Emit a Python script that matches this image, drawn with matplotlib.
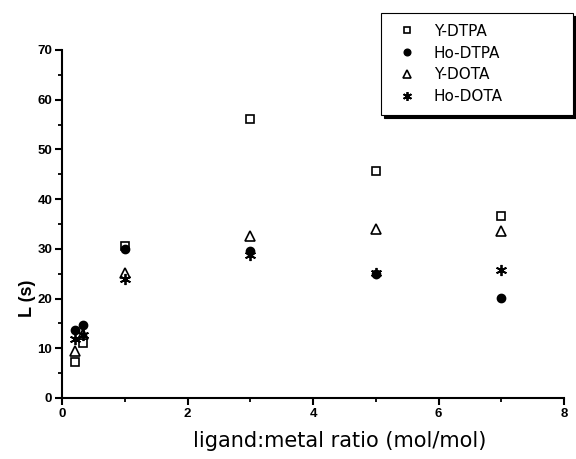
import matplotlib.pyplot as plt
from matplotlib.ticker import MultipleLocator

ratio = [0.2, 0.33, 1, 3, 5, 7]
y_dtpa = [7.3, 11.0, 30.6, 56.1, 45.7, 36.7]
ho_dtpa = [13.7, 14.7, 29.9, 29.5, 25.0, 20.2]
y_dota = [9.5, 12.8, 25.1, 32.6, 33.9, 33.5]
ho_dota = [11.8, 12.6, 23.9, 28.8, 25.1, 25.8]

fig = plt.figure(figsize=(5.76, 4.59), dpi=100)
ax = fig.add_axes([62 / 576, 1 - 398 / 459, (564 - 62) / 576, (398 - 50) / 459])

ax.plot(ratio, y_dtpa, 's', mfc='white', mec='black', mew=1.2, ms=6, label='Y-DTPA')
ax.plot(ratio, ho_dtpa, 'o', color='black', ms=6, label='Ho-DTPA')
ax.plot(ratio, y_dota, '^', mfc='white', mec='black', mew=1.2, ms=7, label='Y-DOTA')
ax.plot(ratio, ho_dota, marker=(6, 2, 0), ls='none', mec='black', mew=1.3, ms=8, label='Ho-DOTA')

ax.set_xlim(0, 8)
ax.set_ylim(0, 70)
ax.xaxis.set_major_locator(MultipleLocator(2))
ax.xaxis.set_minor_locator(MultipleLocator(1))
ax.yaxis.set_major_locator(MultipleLocator(10))
ax.yaxis.set_minor_locator(MultipleLocator(5))
ax.tick_params(which='major', direction='out', length=5, width=1.5, pad=2)
ax.tick_params(which='minor', direction='out', length=3, width=1.3)
for lab in ax.get_xticklabels() + ax.get_yticklabels():
    lab.set_fontfamily('Liberation Sans')
    lab.set_fontweight('bold')
    lab.set_fontsize(9.5)

for side in ['top', 'right']:
    ax.spines[side].set_visible(False)
for side in ['left', 'bottom']:
    ax.spines[side].set_linewidth(1.5)

ax.set_xlabel('ligand:metal ratio (mol/mol)', fontsize=15)
ax.xaxis.set_label_coords(0.554, -0.095)
fig.text(28 / 576, 1 - 298 / 459, 'L (s)', rotation=90, fontsize=13,
         fontweight='bold', family='Liberation Sans', ha='center', va='center')

leg = fig.legend(loc='upper left', bbox_to_anchor=(381 / 576, 1 - 13 / 459, 192 / 576, 0.0),
                 mode='expand', borderaxespad=0, fontsize=11, labelspacing=0.45,
                 borderpad=0.7, handletextpad=0.75, handlelength=2.0, markerscale=0.8,
                 fancybox=False, shadow={'color': 'black', 'alpha': 1.0},
                 edgecolor='black', framealpha=1.0)
leg.get_frame().set_linewidth(0.8)

fig.savefig('out.png', dpi=100)
